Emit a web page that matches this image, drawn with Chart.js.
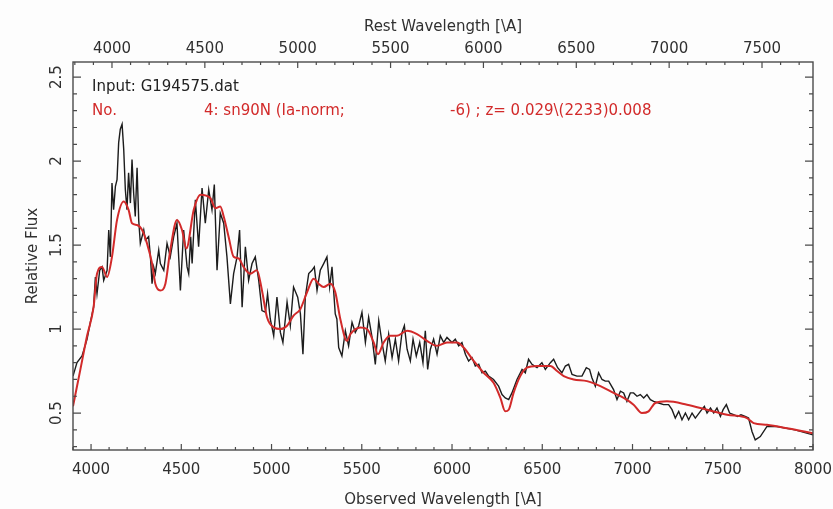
<!DOCTYPE html>
<html>
<head>
<meta charset="utf-8">
<style>
  html, body { margin: 0; padding: 0; background: #fdfdfd; }
</style>
<script src="https://cdn.jsdelivr.net/npm/chart.js@4.4.1/dist/chart.umd.min.js"></script>
</head>
<body>
<canvas id="spec" width="833" height="509"></canvas>
<script>
// spectrum fit: observed data (black) vs template sn90N (red)
const redshift = 0.029;
const obsRange = [3900, 8000];
const fluxRange = [0.28, 2.59];
const obsTicks = [4000, 4500, 5000, 5500, 6000, 6500, 7000, 7500, 8000];
const restTicks = [4000, 4500, 5000, 5500, 6000, 6500, 7000, 7500];
const fluxTicks = [0.5, 1, 1.5, 2, 2.5];

const obsWave = [
  3900, 3922, 3950, 3978, 3996, 4014, 4024, 4033, 4048, 4061, 4070, 4089, 4098, 4107, 4116, 4125,
  4135, 4144, 4153, 4162, 4172, 4181, 4190, 4199, 4208, 4218, 4227, 4236, 4245, 4255, 4264, 4273,
  4292, 4301, 4319, 4329, 4338, 4347, 4356, 4375, 4384, 4403, 4421, 4439, 4458, 4476, 4495, 4513,
  4532, 4541, 4552, 4560, 4578, 4596, 4615, 4633, 4652, 4670, 4683, 4698, 4716, 4735, 4753, 4772,
  4790, 4809, 4823, 4837, 4855, 4873, 4892, 4910, 4929, 4947, 4966, 4978, 4993, 5012, 5030, 5049,
  5063, 5086, 5104, 5122, 5145, 5160, 5174, 5187, 5206, 5224, 5237, 5252, 5270, 5289, 5307, 5322,
  5335, 5353, 5362, 5372, 5390, 5409, 5427, 5446, 5464, 5483, 5501, 5520, 5538, 5557, 5575, 5594,
  5612, 5630, 5649, 5668, 5686, 5704, 5723, 5736, 5751, 5769, 5784, 5802, 5821, 5839, 5852, 5865,
  5880, 5898, 5917, 5935, 5954, 5972, 6000, 6018, 6037, 6055, 6074, 6092, 6111, 6129, 6148, 6166,
  6185, 6203, 6230, 6258, 6277, 6295, 6314, 6332, 6360, 6388, 6406, 6424, 6443, 6471, 6498, 6517,
  6545, 6563, 6585, 6609, 6628, 6646, 6665, 6692, 6720, 6744, 6762, 6775, 6794, 6812, 6831, 6849,
  6868, 6895, 6914, 6933, 6951, 6969, 6988, 7006, 7025, 7043, 7062, 7080, 7099, 7117, 7145, 7172,
  7200, 7219, 7237, 7256, 7274, 7293, 7311, 7330, 7348, 7376, 7398, 7413, 7432, 7450, 7468, 7487,
  7502, 7520, 7538, 7560, 7582, 7601, 7624, 7643, 7662, 7680, 7708, 7745, 7800, 7900, 8000
];
const obsFlux = [
  0.72, 0.80, 0.84, 0.94, 1.04, 1.13, 1.31, 1.21, 1.35, 1.37, 1.29, 1.35, 1.59, 1.43, 1.87, 1.71,
  1.85, 1.89, 2.11, 2.19, 2.22, 2.07, 1.83, 1.71, 1.93, 1.75, 2.01, 1.81, 1.67, 1.96, 1.65, 1.51,
  1.59, 1.53, 1.55, 1.43, 1.27, 1.37, 1.33, 1.47, 1.39, 1.35, 1.51, 1.43, 1.55, 1.63, 1.23, 1.59,
  1.37, 1.33, 1.55, 1.39, 1.77, 1.49, 1.84, 1.63, 1.83, 1.71, 1.86, 1.35, 1.69, 1.63, 1.43, 1.15,
  1.33, 1.43, 1.59, 1.13, 1.49, 1.29, 1.39, 1.43, 1.29, 1.11, 1.10, 1.21, 1.06, 0.96, 1.19, 0.98,
  0.92, 1.16, 1.02, 1.25, 1.19, 1.09, 0.85, 1.19, 1.33, 1.35, 1.37, 1.23, 1.35, 1.39, 1.43, 1.25,
  1.37, 1.09, 1.06, 0.89, 0.84, 0.99, 0.90, 1.04, 0.98, 1.02, 1.10, 0.92, 1.07, 0.95, 0.79, 1.05,
  0.92, 0.81, 0.97, 0.83, 0.94, 0.81, 0.98, 1.02, 0.88, 0.81, 0.94, 0.84, 0.92, 0.80, 0.99, 0.76,
  0.88, 0.94, 0.85, 0.96, 0.92, 0.95, 0.92, 0.94, 0.90, 0.92, 0.85, 0.81, 0.83, 0.78, 0.79, 0.74,
  0.75, 0.72, 0.70, 0.66, 0.61, 0.59, 0.58, 0.62, 0.70, 0.76, 0.74, 0.82, 0.79, 0.77, 0.80, 0.76,
  0.80, 0.82, 0.77, 0.74, 0.78, 0.79, 0.73, 0.72, 0.72, 0.77, 0.76, 0.71, 0.66, 0.74, 0.70, 0.69,
  0.69, 0.64, 0.58, 0.63, 0.62, 0.57, 0.62, 0.62, 0.60, 0.61, 0.59, 0.61, 0.58, 0.57, 0.56, 0.55,
  0.55, 0.52, 0.47, 0.51, 0.46, 0.50, 0.46, 0.50, 0.47, 0.51, 0.54, 0.50, 0.53, 0.50, 0.53, 0.48,
  0.52, 0.55, 0.50, 0.49, 0.48, 0.49, 0.48, 0.47, 0.39, 0.34, 0.36, 0.42, 0.42, 0.40, 0.37
];

const tplWave = [
  3900, 3941, 3978, 4014, 4033, 4061, 4089, 4116, 4144, 4181, 4208, 4227, 4255, 4283, 4310, 4338,
  4356, 4384, 4412, 4439, 4476, 4504, 4528, 4569, 4606, 4661, 4689, 4716, 4735, 4762, 4790, 4818,
  4845, 4882, 4919, 4947, 4975, 5012, 5049, 5086, 5122, 5160, 5197, 5233, 5261, 5289, 5326, 5353,
  5381, 5418, 5437, 5492, 5529, 5566, 5590, 5621, 5658, 5695, 5751, 5806, 5861, 5917, 5972, 6028,
  6064, 6120, 6175, 6230, 6268, 6295, 6314, 6341, 6378, 6415, 6471, 6545, 6582, 6619, 6674, 6748,
  6822, 6895, 6951, 7006, 7052, 7089, 7126, 7191, 7302, 7413, 7524, 7634, 7671, 7745, 7856, 8000
];
const tplFlux = [
  0.54, 0.76, 0.96, 1.13, 1.33, 1.37, 1.31, 1.43, 1.65, 1.76, 1.71, 1.63, 1.62, 1.59, 1.51, 1.39,
  1.27, 1.23, 1.27, 1.47, 1.65, 1.59, 1.48, 1.71, 1.80, 1.78, 1.72, 1.73, 1.67, 1.55, 1.43, 1.42,
  1.37, 1.33, 1.35, 1.23, 1.07, 1.01, 1.00, 1.02, 1.08, 1.12, 1.22, 1.30, 1.27, 1.25, 1.27, 1.22,
  1.06, 0.93, 0.97, 1.01, 1.00, 0.92, 0.85, 0.92, 0.96, 0.96, 0.99, 0.97, 0.93, 0.90, 0.92, 0.92,
  0.89, 0.81, 0.74, 0.68, 0.59, 0.51, 0.52, 0.62, 0.72, 0.77, 0.78, 0.78, 0.75, 0.72, 0.70, 0.69,
  0.66, 0.62, 0.59, 0.55, 0.50, 0.51, 0.56, 0.57, 0.55, 0.52, 0.49, 0.47, 0.44, 0.43, 0.41, 0.38
];

const inputLabel = 'Input: G194575.dat';
const fitLabels = ['No.', '4: sn90N (Ia-norm;', '-6) ; z= 0.029\\(2233)0.008'];

const FONT = 'DejaVu Sans';
const TXT = '#303030';
const RED = '#d22a2a';

function toPoints(xs, ys) {
  return xs.map((x, i) => ({ x: x, y: ys[i] }));
}

function fixedTicks(values) {
  return scale => { scale.ticks = values.map(v => ({ value: v })); };
}

// keep the plot box fixed: no extra room for overhanging edge labels
function fixHeight(h) {
  return s => { s.height = h; s.paddingLeft = 0; s.paddingRight = 0; };
}

// frame, inward PGPLOT-style ticks, rotated y labels and the fit caption
const pgplotFrame = {
  id: 'pgplotFrame',
  beforeDraw(chart) {
    const ctx = chart.ctx;
    ctx.save();
    ctx.fillStyle = '#fdfdfd';
    ctx.fillRect(0, 0, chart.width, chart.height);
    ctx.restore();
  },
  afterDraw(chart) {
    const { ctx, chartArea: a, scales } = chart;
    ctx.save();
    ctx.strokeStyle = '#4a4a4a';
    ctx.lineWidth = 1.4;
    ctx.strokeRect(a.left, a.top, a.right - a.left, a.bottom - a.top);

    ctx.lineWidth = 1.2;
    ctx.beginPath();
    // bottom: observed wavelength
    const xs = scales.x;
    for (let v = Math.ceil(xs.min / 100) * 100; v <= xs.max; v += 100) {
      const px = xs.getPixelForValue(v);
      const len = v % 500 === 0 ? 6 : 3;
      ctx.moveTo(px, a.bottom);
      ctx.lineTo(px, a.bottom - len);
    }
    // top: rest wavelength
    const xt = scales.xTop;
    for (let v = Math.ceil(xt.min / 100) * 100; v <= xt.max; v += 100) {
      const px = xt.getPixelForValue(v);
      const len = v % 500 === 0 ? 6 : 3;
      ctx.moveTo(px, a.top);
      ctx.lineTo(px, a.top + len);
    }
    // left + right: flux
    const ys = scales.y;
    for (let k = Math.ceil(ys.min * 10); k <= ys.max * 10; k++) {
      const py = ys.getPixelForValue(k / 10);
      const len = k % 5 === 0 ? 8 : 4;
      ctx.moveTo(a.left, py);
      ctx.lineTo(a.left + len, py);
      ctx.moveTo(a.right, py);
      ctx.lineTo(a.right - len, py);
    }
    ctx.stroke();

    ctx.fillStyle = TXT;
    ctx.font = '15px "' + FONT + '"';
    ctx.textAlign = 'center';
    ctx.textBaseline = 'middle';
    ys.ticks.forEach(t => {
      ctx.save();
      ctx.translate(57, ys.getPixelForValue(t.value));
      ctx.rotate(-Math.PI / 2);
      ctx.fillText(String(t.value), 0, 0);
      ctx.restore();
    });

    ctx.textAlign = 'left';
    ctx.fillStyle = '#222';
    ctx.fillText(inputLabel, 92, 87);
    ctx.fillStyle = RED;
    ctx.fillText(fitLabels[0], 92, 111);
    ctx.fillText(fitLabels[1], 204, 111);
    ctx.fillText(fitLabels[2], 450, 111);
    ctx.restore();
  }
};

new Chart(document.getElementById('spec'), {
  type: 'line',
  data: {
    datasets: [
      {
        label: 'template',
        data: toPoints(tplWave, tplFlux),
        borderColor: RED,
        borderWidth: 2,
        pointRadius: 0,
        cubicInterpolationMode: 'monotone',
        xAxisID: 'x',
        yAxisID: 'y'
      },
      {
        label: 'observed',
        data: toPoints(obsWave, obsFlux),
        borderColor: '#1c1c1c',
        borderWidth: 1.4,
        pointRadius: 0,
        tension: 0,
        xAxisID: 'x',
        yAxisID: 'y'
      }
    ]
  },
  options: {
    responsive: false,
    animation: false,
    layout: { padding: 0 },
    plugins: { legend: { display: false }, tooltip: { enabled: false } },
    scales: {
      x: {
        type: 'linear',
        position: 'bottom',
        min: obsRange[0],
        max: obsRange[1],
        afterBuildTicks: fixedTicks(obsTicks),
        grid: { display: false },
        border: { display: false },
        ticks: { autoSkip: false, maxRotation: 0, padding: 3, callback: v => String(v),
                 color: TXT, font: { family: FONT, size: 15 } },
        title: { display: true, text: 'Observed Wavelength [\\A]', color: TXT,
                 font: { family: FONT, size: 15 }, padding: { top: 0, bottom: 0 } },
        afterFit: fixHeight(59)
      },
      xTop: {
        type: 'linear',
        position: 'top',
        min: obsRange[0] / (1 + redshift),
        max: obsRange[1] / (1 + redshift),
        afterBuildTicks: fixedTicks(restTicks),
        grid: { display: false },
        border: { display: false },
        ticks: { autoSkip: false, maxRotation: 0, padding: -4, callback: v => String(v),
                 color: TXT, font: { family: FONT, size: 15 } },
        title: { display: true, text: 'Rest Wavelength [\\A]', color: TXT,
                 font: { family: FONT, size: 15 }, padding: { top: 18, bottom: 0 } },
        afterFit: fixHeight(62)
      },
      y: {
        type: 'linear',
        position: 'left',
        min: fluxRange[0],
        max: fluxRange[1],
        afterBuildTicks: fixedTicks(fluxTicks),
        grid: { display: false },
        border: { display: false },
        ticks: { display: false },
        title: { display: true, text: 'Relative Flux', color: TXT,
                 font: { family: FONT, size: 15 }, padding: { top: 24, bottom: 0 } },
        afterFit(s) { s.width = 73; }
      },
      yRight: {
        type: 'linear',
        position: 'right',
        min: fluxRange[0],
        max: fluxRange[1],
        grid: { display: false },
        border: { display: false },
        ticks: { display: false },
        afterFit(s) { s.width = 20; }
      }
    }
  },
  plugins: [pgplotFrame]
});
</script>
</body>
</html>
